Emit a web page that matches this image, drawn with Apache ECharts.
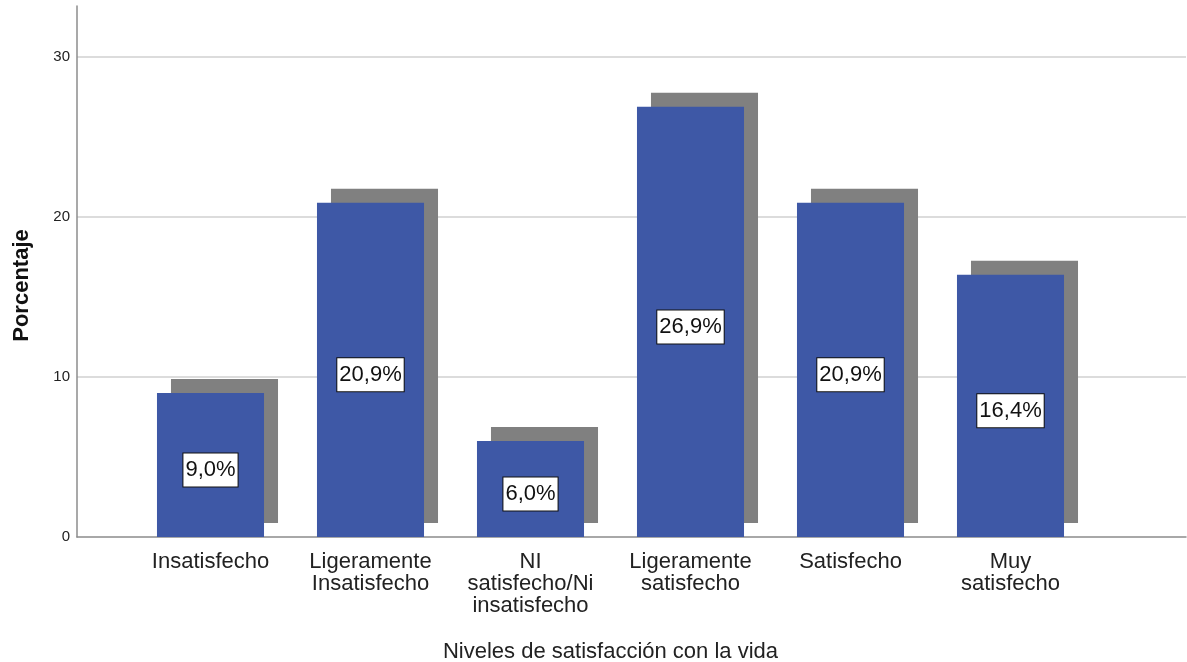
<!DOCTYPE html>
<html><head><meta charset="utf-8">
<script src="https://cdn.jsdelivr.net/npm/echarts@6/dist/echarts.min.js"></script>
<style>html,body{margin:0;padding:0;background:#fff}#c{width:1187px;height:662px}</style>
</head><body><div id="c"></div>
<script>
const categories = ['Insatisfecho', 'Ligeramente\nInsatisfecho', 'NI\nsatisfecho/Ni\ninsatisfecho', 'Ligeramente\nsatisfecho', 'Satisfecho', 'Muy\nsatisfecho'];
const values = [9.0, 20.9, 6.0, 26.9, 20.9, 16.4];
const yTicks = [0, 10, 20, 30];
const yTitle = 'Porcentaje';
const xTitle = 'Niveles de satisfacción con la vida';

const FONT = '"Liberation Sans", Arial, sans-serif';
const BLUE = '#3e58a6', SHADOW = '#808080';
const YMAX = 33.2;

const chart = echarts.init(document.getElementById('c'), null, {renderer: 'canvas'});
chart.setOption({
  backgroundColor: '#fff',
  animation: false,
  textStyle: {fontFamily: FONT},
  grid: [
    {left: 77, right: 1, top: 6, bottom: 125, outerBoundsMode: 'none', containLabel: false},
    {left: 130.5, right: 96.5, top: 6, bottom: 125, outerBoundsMode: 'none', containLabel: false},
    {left: 77, right: 1, top: 34, bottom: 125, outerBoundsMode: 'none', containLabel: false}
  ],
  xAxis: [
    {gridIndex: 0, type: 'value', min: 0, max: 1, axisLine: {show: true, onZero: false, lineStyle: {color: '#8c8c8c', width: 1.5}},
     axisTick: {show: false}, axisLabel: {show: false}, splitLine: {show: false}},
    {gridIndex: 1, type: 'category', data: categories, axisLine: {show: false}, axisTick: {show: false},
     axisLabel: {fontFamily: FONT, fontSize: 22, lineHeight: 22, color: '#222', margin: 14, interval: 0, align: 'center'},
     name: xTitle, nameLocation: 'middle', nameGap: 104, nameTextStyle: {fontFamily: FONT, fontSize: 22, color: '#222'}},
    {gridIndex: 2, type: 'value', min: 0, max: 1, show: false}
  ],
  yAxis: [
    {gridIndex: 0, type: 'value', min: 0, max: YMAX, interval: 10,
     axisLine: {show: true, lineStyle: {color: '#8c8c8c', width: 1.5}}, axisTick: {show: false},
     axisLabel: {fontFamily: FONT, fontSize: 15, color: '#222', margin: 7, showMaxLabel: false,
       formatter: v => yTicks.includes(v) ? String(v) : ''},
     splitLine: {show: true, showMinLine: false, showMaxLine: false, lineStyle: {color: '#d0d0d0', width: 1.5}}},
    {gridIndex: 1, type: 'value', min: 0, max: YMAX, show: false},
    {gridIndex: 2, type: 'value', min: 0, max: 1, axisLine: {show: false}, axisTick: {show: false},
     axisLabel: {show: false}, splitLine: {show: false},
     name: yTitle, nameLocation: 'middle', nameGap: 44,
     nameTextStyle: {fontFamily: FONT, fontSize: 22, fontWeight: 'bold', color: '#111'}}
  ],
  series: [
    {type: 'line', xAxisIndex: 0, yAxisIndex: 0, data: [], silent: true},
    {type: 'line', xAxisIndex: 2, yAxisIndex: 2, data: [], silent: true},
    {
      type: 'custom', xAxisIndex: 1, yAxisIndex: 1,
      data: values.map((v, i) => [i, v]),
      renderItem: function (params, api) {
        const x = api.value(0), v = api.value(1);
        const top = api.coord([x, v]);
        const base = api.coord([x, 0]);
        const w = api.size([1, 0])[0] * 0.669;
        const h = base[1] - top[1];
        const txt = v.toFixed(1).replace('.', ',') + '%';
        return {
          type: 'group',
          children: [
            {type: 'rect', shape: {x: top[0] - w / 2 + 14, y: top[1] - 14, width: w, height: h}, style: {fill: SHADOW}},
            {type: 'rect', shape: {x: top[0] - w / 2, y: top[1], width: w, height: h}, style: {fill: BLUE},
             textContent: {style: {text: txt, fill: '#111', fontFamily: FONT, fontSize: 22,
               backgroundColor: '#fff', borderColor: '#111', borderWidth: 1, padding: [6, 2, 5, 2]}},
             textConfig: {position: 'inside', offset: [0, 5]}}
          ]
        };
      }
    }
  ]
});
</script></body></html>
